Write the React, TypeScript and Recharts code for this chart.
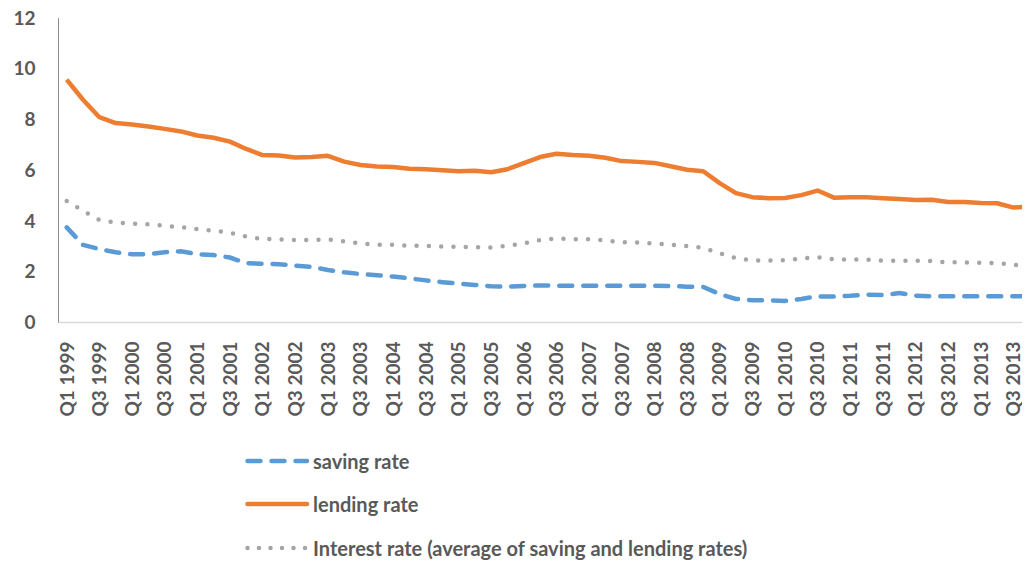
import React from 'react';
import { LineChart, Line, XAxis, YAxis, Legend } from 'recharts';

const quarters: string[] = [
  'Q1 1999','Q2 1999','Q3 1999','Q4 1999',
  'Q1 2000','Q2 2000','Q3 2000','Q4 2000',
  'Q1 2001','Q2 2001','Q3 2001','Q4 2001',
  'Q1 2002','Q2 2002','Q3 2002','Q4 2002',
  'Q1 2003','Q2 2003','Q3 2003','Q4 2003',
  'Q1 2004','Q2 2004','Q3 2004','Q4 2004',
  'Q1 2005','Q2 2005','Q3 2005','Q4 2005',
  'Q1 2006','Q2 2006','Q3 2006','Q4 2006',
  'Q1 2007','Q2 2007','Q3 2007','Q4 2007',
  'Q1 2008','Q2 2008','Q3 2008','Q4 2008',
  'Q1 2009','Q2 2009','Q3 2009','Q4 2009',
  'Q1 2010','Q2 2010','Q3 2010','Q4 2010',
  'Q1 2011','Q2 2011','Q3 2011','Q4 2011',
  'Q1 2012','Q2 2012','Q3 2012','Q4 2012',
  'Q1 2013','Q2 2013','Q3 2013','Q4 2013',
];

const savingRate: number[] = [
  3.75, 3.06, 2.89, 2.77, 2.69, 2.69, 2.77, 2.81, 2.69, 2.66,
  2.56, 2.34, 2.31, 2.30, 2.24, 2.19, 2.07, 1.98, 1.91, 1.86,
  1.81, 1.74, 1.66, 1.59, 1.53, 1.48, 1.43, 1.41, 1.44, 1.46,
  1.45, 1.45, 1.45, 1.45, 1.45, 1.45, 1.45, 1.44, 1.41, 1.40,
  1.12, 0.93, 0.88, 0.87, 0.85, 0.93, 1.03, 1.02, 1.05, 1.10,
  1.08, 1.16, 1.06, 1.03, 1.03, 1.03, 1.03, 1.03, 1.03, 1.03,
];

const lendingRate: number[] = [
  9.57, 8.78, 8.09, 7.86, 7.80, 7.72, 7.63, 7.53, 7.37, 7.28,
  7.13, 6.84, 6.60, 6.58, 6.50, 6.52, 6.57, 6.34, 6.21, 6.15,
  6.13, 6.06, 6.04, 6.00, 5.96, 5.98, 5.92, 6.04, 6.28, 6.52,
  6.65, 6.60, 6.57, 6.49, 6.36, 6.33, 6.29, 6.16, 6.02, 5.96,
  5.49, 5.10, 4.94, 4.90, 4.91, 5.02, 5.20, 4.92, 4.94, 4.94,
  4.90, 4.87, 4.83, 4.84, 4.75, 4.75, 4.71, 4.70, 4.53, 4.57,
];

const interestRate: number[] = [
  4.79, 4.40, 4.04, 3.94, 3.90, 3.87, 3.81, 3.76, 3.68, 3.62,
  3.54, 3.39, 3.29, 3.28, 3.25, 3.25, 3.27, 3.20, 3.11, 3.07,
  3.06, 3.02, 3.02, 2.99, 2.98, 2.97, 2.96, 3.02, 3.12, 3.25,
  3.31, 3.28, 3.28, 3.24, 3.16, 3.15, 3.11, 3.07, 3.01, 2.94,
  2.73, 2.54, 2.45, 2.44, 2.45, 2.52, 2.57, 2.49, 2.48, 2.48,
  2.44, 2.43, 2.43, 2.42, 2.37, 2.37, 2.35, 2.34, 2.27, 2.27,
];

const yTicks: number[] = [0, 2, 4, 6, 8, 10, 12];

const seriesNames = {
  saving: 'saving rate',
  lending: 'lending rate',
  interest: 'Interest rate (average of saving and lending rates)',
};

const data = quarters.map((q, i) => ({
  quarter: q,
  saving: savingRate[i],
  lending: lendingRate[i],
  interest: interestRate[i],
}));

const FONT = 'Lato, "Open Sans", sans-serif';
const TEXT = '#595959';
const BLUE = '#5B9BD5';
const ORANGE = '#ED7D31';
const GRAY = '#A5A5A5';

const XTick = (props: any) => {
  const { x, y, payload } = props;
  return (
    <g transform={`translate(${x},${y})`}>
      <text
        transform="rotate(-90)"
        x={-19}
        y={0}
        dy="0.36em"
        textAnchor="end"
        fill={TEXT}
        fontFamily={FONT}
        fontWeight={700}
        fontSize={19}
      >
        {payload.value}
      </text>
    </g>
  );
};

const LegendContent = () => {
  const rows = [
    { name: seriesNames.saving, color: BLUE, dash: '13 11' },
    { name: seriesNames.lending, color: ORANGE, dash: undefined },
    { name: seriesNames.interest, color: GRAY, dash: '0 11.5' },
  ];
  return (
    <div style={{ display: 'flex', flexDirection: 'column' }}>
      {rows.map((r) => (
        <div key={r.name} style={{ display: 'flex', alignItems: 'center', height: 43.5 }}>
          <svg width={68} height={12} style={{ display: 'block' }}>
            <line
              x1={2.5}
              y1={6}
              x2={62}
              y2={6}
              stroke={r.color}
              strokeWidth={4.5}
              strokeLinecap="round"
              strokeDasharray={r.dash}
            />
          </svg>
          <span
            style={{
              fontFamily: FONT,
              fontWeight: 700,
              fontSize: 20,
              color: TEXT,
              whiteSpace: 'nowrap',
            }}
          >
            {r.name}
          </span>
        </div>
      ))}
    </div>
  );
};

export default function App() {
  return (
    <div
      style={{
        position: 'relative',
        marginLeft: -8,
        marginTop: -8,
        width: 1030,
        height: 564,
        overflow: 'hidden',
        background: '#ffffff',
      }}
    >
      <LineChart
        width={1042}
        height={564}
        data={data}
        margin={{ top: 18, right: 4, left: 0, bottom: 141.5 }}
      >
        <XAxis
          dataKey="quarter"
          interval={1}
          height={100}
          padding={{ left: 8.2, right: 8.2 }}
          tickLine={false}
          tickSize={0}
          tickMargin={0}
          axisLine={{ stroke: '#D9D9D9', strokeWidth: 1.5 }}
          tick={<XTick />}
        />
        <YAxis
          width={58.5}
          domain={[0, 12]}
          ticks={yTicks}
          tickLine={false}
          tickSize={0}
          tickMargin={23}
          axisLine={{ stroke: '#8C8C8C', strokeWidth: 1 }}
          tick={{ fill: TEXT, fontFamily: FONT, fontWeight: 700, fontSize: 19 }}
        />
        <Legend
          layout="vertical"
          align="center"
          verticalAlign="middle"
          content={<LegendContent />}
          wrapperStyle={{ left: 245, top: 439, width: 'auto' }}
        />
        <Line
          type="linear"
          dataKey="saving"
          name={seriesNames.saving}
          stroke={BLUE}
          strokeWidth={4.5}
          strokeDasharray="13 11"
          strokeLinecap="round"
          dot={false}
          activeDot={false}
          isAnimationActive={false}
        />
        <Line
          type="linear"
          dataKey="lending"
          name={seriesNames.lending}
          stroke={ORANGE}
          strokeWidth={4.5}
          strokeLinejoin="round"
          dot={false}
          activeDot={false}
          isAnimationActive={false}
        />
        <Line
          type="linear"
          dataKey="interest"
          name={seriesNames.interest}
          stroke={GRAY}
          strokeWidth={4.5}
          strokeDasharray="0 12.3"
          strokeLinecap="round"
          dot={false}
          activeDot={false}
          isAnimationActive={false}
        />
      </LineChart>
    </div>
  );
}
